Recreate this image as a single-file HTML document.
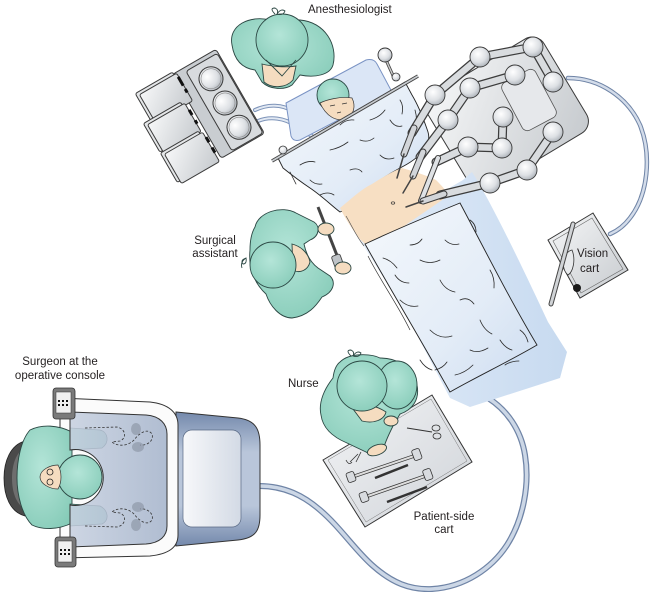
<!DOCTYPE html>
<html><head><meta charset="utf-8"><style>
html,body{margin:0;padding:0;background:#fff;}
svg{display:block;}
text{font-family:"Liberation Sans",Arial,sans-serif;font-size:11.5px;fill:#231f20;}
</style></head><body>
<svg width="650" height="592" viewBox="0 0 650 592" xmlns="http://www.w3.org/2000/svg">
<defs>
<radialGradient id="gBall" cx="0.4" cy="0.35" r="0.7"><stop offset="0" stop-color="#ffffff"/><stop offset="0.6" stop-color="#dde0e4"/><stop offset="1" stop-color="#a9afb6"/></radialGradient>
<radialGradient id="gGreen" cx="0.45" cy="0.4" r="0.7"><stop offset="0" stop-color="#b4e5d8"/><stop offset="1" stop-color="#86cbb8"/></radialGradient>
<linearGradient id="gGray" x1="0" y1="0" x2="1" y2="1"><stop offset="0" stop-color="#f6f7f8"/><stop offset="1" stop-color="#c6cace"/></linearGradient>
<linearGradient id="gDrape" x1="0" y1="0" x2="1" y2="1"><stop offset="0" stop-color="#f4f8fc"/><stop offset="0.6" stop-color="#e3ecf7"/><stop offset="1" stop-color="#ccdcf0"/></linearGradient>
<linearGradient id="gSheet" x1="0" y1="0" x2="1" y2="0"><stop offset="0" stop-color="#e2ecf8"/><stop offset="1" stop-color="#c7daf0"/></linearGradient>
<linearGradient id="gCons" x1="0" y1="0" x2="0" y2="1"><stop offset="0" stop-color="#7489ac"/><stop offset="0.3" stop-color="#b9c6da"/><stop offset="0.7" stop-color="#b9c6da"/><stop offset="1" stop-color="#7489ac"/></linearGradient>
<linearGradient id="gInner" x1="0" y1="0" x2="1" y2="0"><stop offset="0" stop-color="#f7f8fa"/><stop offset="1" stop-color="#d3dae5"/></linearGradient>
<linearGradient id="gPanel" x1="0" y1="0" x2="1" y2="0"><stop offset="0" stop-color="#c5cfdf"/><stop offset="1" stop-color="#a3b2ca"/></linearGradient>
<linearGradient id="gTray" x1="0" y1="0" x2="1" y2="1"><stop offset="0" stop-color="#f3f4f6"/><stop offset="1" stop-color="#cfd3d8"/></linearGradient>
</defs>

<!-- cables -->
<g fill="none" stroke-linecap="round">
<path d="M256,486 C285,485 305,497 320,510 C340,527 355,550 372,565 C392,583 410,590 432,589 C465,587 492,568 507,545 C523,520 530,485 525,455 C521,430 507,410 488,398" stroke="#6f84a6" stroke-width="6"/>
<path d="M256,486 C285,485 305,497 320,510 C340,527 355,550 372,565 C392,583 410,590 432,589 C465,587 492,568 507,545 C523,520 530,485 525,455 C521,430 507,410 488,398" stroke="#ccd7e6" stroke-width="3.5"/>
<path d="M568,78 C600,78 628,98 640,125 C652,155 648,195 630,218 C624,226 617,231 610,234" stroke="#6f84a6" stroke-width="4.5"/>
<path d="M568,78 C600,78 628,98 640,125 C652,155 648,195 630,218 C624,226 617,231 610,234" stroke="#d3dcea" stroke-width="2.5"/>
<path d="M255,110 C268,104 282,104 295,112 C305,118 312,124 322,127" stroke="#7d93b8" stroke-width="4"/>
<path d="M255,110 C268,104 282,104 295,112 C305,118 312,124 322,127" stroke="#e2e9f3" stroke-width="2"/>
<path d="M258,121 C270,116 285,118 296,126 C302,130 306,133 312,136" stroke="#7d93b8" stroke-width="4"/>
<path d="M258,121 C270,116 285,118 296,126 C302,130 306,133 312,136" stroke="#e2e9f3" stroke-width="2"/>
</g>

<!-- anesthesia machine -->
<g transform="translate(225,103) rotate(-30)" stroke="#3a3a3a" stroke-width="1">
<rect x="-31" y="-51" width="50" height="97" rx="3" fill="#c9cdd1"/>
<rect x="-18" y="-47" width="36" height="92" rx="3" fill="#d8dbde"/>
<rect x="-73" y="-53" width="43" height="32" rx="2" fill="#e4e6e8"/>
<rect x="-70" y="-50" width="43" height="32" rx="2" fill="url(#gGray)"/>
<rect x="-81" y="-23" width="43" height="33" rx="2" fill="#e4e6e8"/>
<rect x="-78" y="-20" width="43" height="33" rx="2" fill="url(#gGray)"/>
<rect x="-81" y="11" width="44" height="34" rx="2" fill="#e4e6e8"/>
<rect x="-78" y="14" width="44" height="34" rx="2" fill="url(#gGray)"/>
<g fill="#111" stroke="none">
<rect x="-29" y="-46" width="3" height="10"/><rect x="-29" y="-32" width="3" height="4"/>
<rect x="-36" y="-12" width="3" height="6"/><rect x="-36" y="0" width="3" height="4"/>
<rect x="-35" y="20" width="3" height="6"/><rect x="-35" y="32" width="3" height="6"/>
</g>
<circle cx="0" cy="-28" r="12" fill="url(#gBall)"/><circle cx="0" cy="-28" r="10" fill="none" stroke="#888" stroke-width="0.6"/>
<circle cx="0" cy="0" r="12" fill="url(#gBall)"/><circle cx="0" cy="0" r="10" fill="none" stroke="#888" stroke-width="0.6"/>
<circle cx="0" cy="28" r="12" fill="url(#gBall)"/><circle cx="0" cy="28" r="10" fill="none" stroke="#888" stroke-width="0.6"/>
</g>

<!-- robot base -->
<g transform="translate(507,114) rotate(-31)" stroke="#3a3a3a" stroke-width="1">
<rect x="-68" y="-55" width="136" height="110" rx="14" fill="url(#gGray)"/>
</g>
<g transform="translate(529,100) rotate(-28)" stroke="#555" stroke-width="0.8">
<rect x="-19" y="-27" width="38" height="54" rx="6" fill="#e6e8eb"/>
</g>

<!-- bed sheet -->
<path d="M360,240 L463,180 L472,172 C490,200 520,262 548,322 L567,352 L560,378 L470,407 L450,398 L405,312 Z" fill="url(#gSheet)"/>
<path d="M290,104 L368,62 L392,92 L300,140 Z" fill="#dbe6f6"/>
<!-- pillow -->
<path d="M286,103 L366,60 Q374,58 377,64 L392,92 L300,140 Q293,142 291,136 Z" fill="#dbe6f6" stroke="#7a93c4" stroke-width="1"/>
<!-- patient head -->
<circle cx="333" cy="95" r="16" fill="url(#gGreen)" stroke="#2b4743" stroke-width="0.9"/>
<path d="M320,103 C326,100 340,96 352,98 C356,106 354,115 346,119 C336,122 326,116 320,103 Z" fill="#f5dcc0" stroke="#333" stroke-width="0.7"/>
<path d="M330,106 l5,-1 M342,104 l5,-1 M337,113 l4,-1" stroke="#333" stroke-width="0.7" fill="none"/>
<!-- upper drape -->
<path d="M278,158 L405,82 L412,95 C418,105 424,120 428,132 C432,145 420,158 400,168 C385,176 372,185 360,196 C352,204 346,210 340,212 C332,206 322,196 310,188 C298,180 288,172 283,168 Z" fill="url(#gDrape)" stroke="#222" stroke-width="0.9"/>
<!-- skin -->
<path d="M340,208 C350,200 360,190 372,184 C385,176 395,170 402,168 C416,172 428,176 436,180 C442,186 446,190 448,196 L372,248 C364,244 360,240 356,234 C350,226 344,216 340,208 Z" fill="#f7dfc3"/>
<ellipse cx="393" cy="203" rx="1.8" ry="1.2" fill="none" stroke="#333" stroke-width="0.7"/>
<path d="M346,216 C352,226 356,236 364,246" stroke="#555" stroke-width="0.7" fill="none"/>
<!-- lower drape -->
<path d="M365,244 C395,230 428,216 460,203 C485,250 510,300 537,345 C508,362 478,376 450,392 C422,342 392,292 365,244 Z" fill="url(#gDrape)" stroke="#222" stroke-width="0.9"/>
<path d="M368,256 C380,280 398,305 410,330" stroke="#333" stroke-width="0.7" fill="none"/>
<!-- bar and knobs -->
<line x1="272" y1="161" x2="418" y2="76" stroke="#444" stroke-width="3.5"/>
<line x1="272" y1="161" x2="418" y2="76" stroke="#c8ccd0" stroke-width="1.6"/>
<circle cx="283" cy="150" r="4" fill="url(#gBall)" stroke="#333" stroke-width="0.8"/>
<line x1="395" y1="80" x2="386" y2="60" stroke="#444" stroke-width="3"/>
<line x1="395" y1="80" x2="386" y2="60" stroke="#ccc" stroke-width="1.4"/>
<circle cx="385" cy="55" r="7" fill="url(#gBall)" stroke="#333" stroke-width="0.9"/>
<circle cx="396" cy="77" r="4" fill="url(#gBall)" stroke="#333" stroke-width="0.8"/>
<!-- wrinkles -->
<g fill="none" stroke="#2a2a2a" stroke-width="0.8" stroke-linecap="round">
<path d="M300,165 q8,-5 15,-3"/><path d="M330,150 q10,-2 18,-8"/><path d="M360,140 q8,3 14,-2"/><path d="M390,120 q5,8 12,6"/>
<path d="M310,180 q5,5 12,4"/><path d="M350,170 q8,-3 12,2"/><path d="M380,155 q6,6 14,3"/><path d="M400,100 q4,6 2,14"/>
<path d="M290,172 l6,12"/><path d="M320,195 q8,-4 14,0"/><path d="M415,110 q3,10 0,20"/><path d="M370,120 q10,-3 15,-10"/><path d="M340,125 q6,-6 14,-5"/>
<path d="M420,260 q10,5 20,0"/><path d="M440,280 q5,10 15,12"/><path d="M400,300 q8,8 18,6"/><path d="M460,300 q8,-4 14,4"/>
<path d="M430,330 q10,10 22,6"/><path d="M480,320 q4,10 12,14"/><path d="M470,350 q8,4 18,-2"/><path d="M500,340 q5,8 12,10"/>
<path d="M420,360 q5,8 12,10"/><path d="M455,375 q10,-2 18,-10"/><path d="M395,275 q5,8 14,8"/><path d="M445,240 q6,6 14,4"/>
<path d="M490,270 q5,8 4,18"/><path d="M505,365 q6,-4 14,-4"/><path d="M410,245 q8,0 12,-6"/><path d="M520,330 q6,4 8,12"/>
<path d="M383,258 q8,2 14,10"/><path d="M470,220 q6,4 6,12"/><path d="M435,370 q8,-2 12,-8"/>
</g>

<!-- robot arms -->
<g fill="none" stroke-linejoin="round" stroke-linecap="round">
<g stroke="#3c3c3c" stroke-width="9">
<polyline points="553,82 533,47 480,57 435,95 412,133"/>
<polyline points="515,75 470,88 448,120 420,157"/>
<polyline points="503,117 502,148 468,147 436,162"/>
<polyline points="553,132 527,170 490,183 440,195"/>
</g>
<g stroke="#d9dcdf" stroke-width="6.5">
<polyline points="553,82 533,47 480,57 435,95 412,133"/>
<polyline points="515,75 470,88 448,120 420,157"/>
<polyline points="503,117 502,148 468,147 436,162"/>
<polyline points="553,132 527,170 490,183 440,195"/>
</g>
<line x1="414" y1="128" x2="404" y2="154" stroke="#3c3c3c" stroke-width="7"/>
<line x1="414" y1="128" x2="404" y2="154" stroke="#d2d5d9" stroke-width="5"/>
<line x1="404" y1="154" x2="397" y2="178" stroke="#444" stroke-width="1.5"/>
<line x1="423" y1="152" x2="413" y2="176" stroke="#3c3c3c" stroke-width="7"/>
<line x1="423" y1="152" x2="413" y2="176" stroke="#d2d5d9" stroke-width="5"/>
<line x1="413" y1="176" x2="403" y2="193" stroke="#444" stroke-width="1.5"/>
<line x1="438" y1="158" x2="421" y2="201" stroke="#3c3c3c" stroke-width="6"/>
<line x1="438" y1="158" x2="421" y2="201" stroke="#dfe2e5" stroke-width="4"/>
<line x1="444" y1="194" x2="423" y2="201" stroke="#3c3c3c" stroke-width="7"/>
<line x1="444" y1="194" x2="423" y2="201" stroke="#d2d5d9" stroke-width="5"/>
<line x1="423" y1="201" x2="406" y2="207" stroke="#444" stroke-width="1.5"/>
</g>
<g fill="url(#gBall)" stroke="#3a3a3a" stroke-width="0.9">
<circle cx="480" cy="57" r="10"/><circle cx="533" cy="47" r="10"/><circle cx="553" cy="82" r="10"/>
<circle cx="515" cy="75" r="10"/><circle cx="470" cy="88" r="10"/><circle cx="435" cy="95" r="10"/>
<circle cx="448" cy="120" r="10"/><circle cx="503" cy="117" r="10"/><circle cx="502" cy="148" r="10"/>
<circle cx="468" cy="147" r="10"/><circle cx="553" cy="132" r="10"/><circle cx="527" cy="170" r="10"/>
<circle cx="490" cy="183" r="10"/>
</g>

<!-- vision cart -->
<path d="M548,240 L593,213 L628,270 L580,298 Z" fill="url(#gGray)" stroke="#333" stroke-width="1"/>
<path d="M553,241 L592,218 L623,269 L581,293 Z" fill="none" stroke="#666" stroke-width="0.6"/>
<path d="M572,250 C563,252 560,268 568,275 C573,272 576,260 572,250 Z" fill="#e8eaec" stroke="#333" stroke-width="0.8"/>
<line x1="573" y1="224" x2="551" y2="304" stroke="#444" stroke-width="5" stroke-linecap="round"/>
<line x1="573" y1="224" x2="551" y2="304" stroke="#d0d3d6" stroke-width="3" stroke-linecap="round"/>
<circle cx="577" cy="288" r="4" fill="#1a1a1a"/>
<text x="577" y="257">Vision</text>
<text x="580" y="272">cart</text>

<!-- anesthesiologist -->
<g stroke="#2b4743" stroke-width="0.9">
<path d="M232,45 C228,25 250,15 270,20 L300,20 C325,22 338,45 333,65 C330,75 315,78 300,75 L292,85 C285,90 270,90 262,82 L255,70 C240,68 234,58 232,45 Z" fill="url(#gGreen)"/>
<path d="M262,64 C270,66 285,68 296,66 L293,80 C286,88 272,89 264,82 Z" fill="#f5dcc0"/>
<circle cx="282" cy="40" r="26" fill="url(#gGreen)"/>
<path d="M266,60 L282,76 L296,60" fill="none"/>
<path d="M275,14 q-6,-6 0,-6 q4,2 2,6 q4,-6 8,-3 q-2,5 -8,3" fill="none"/>
</g>

<!-- surgical assistant -->
<g stroke="#2b4743" stroke-width="0.9">
<line x1="318" y1="207" x2="338" y2="258" stroke="#444" stroke-width="3"/>
<rect x="333" y="255" width="9" height="12" rx="2" fill="#bfc3c7" stroke="#444" transform="rotate(-20 337 261)"/>
<path d="M255,227 C258,212 282,205 296,213 L314,222 C320,226 320,236 310,240 L304,244 C306,254 310,262 318,268 L330,276 C336,282 334,292 322,297 C316,306 308,316 292,318 C280,318 270,306 266,294 C256,285 248,270 250,250 C250,240 252,232 255,227 Z" fill="url(#gGreen)"/>
<ellipse cx="326" cy="229" rx="8" ry="6" fill="#f5dcc0"/>
<ellipse cx="343" cy="268" rx="8" ry="6" fill="#f5dcc0"/>
<path d="M292,244 C300,246 308,252 310,262 C308,270 300,274 293,270 Z" fill="#f5dcc0"/>
<circle cx="273" cy="265" r="23" fill="url(#gGreen)"/>
<path d="M246,258 q-6,2 -3,6 q4,0 3,-6 q-6,4 -4,10" fill="none"/>
</g>
<text x="215" y="244" text-anchor="middle">Surgical</text>
<text x="215" y="257" text-anchor="middle">assistant</text>

<!-- tray -->
<path d="M323,460 L432,395 L472,462 L365,527 Z" fill="url(#gTray)" stroke="#333" stroke-width="1"/>
<path d="M328,460 L431,399 L467,461 L366,522 Z" fill="none" stroke="#777" stroke-width="0.5"/>
<g stroke="#333" stroke-width="0.8" fill="#d8dbdf">
<line x1="352" y1="477" x2="417" y2="455" stroke="#333" stroke-width="3.5"/>
<line x1="352" y1="477" x2="417" y2="455" stroke="#ddd" stroke-width="2"/>
<rect x="347" y="472" width="8" height="10" rx="2" transform="rotate(-20 351 477)"/>
<rect x="413" y="449" width="8" height="11" rx="2" transform="rotate(-20 417 455)"/>
<line x1="365" y1="497" x2="428" y2="475" stroke="#333" stroke-width="3.5"/>
<line x1="365" y1="497" x2="428" y2="475" stroke="#ddd" stroke-width="2"/>
<rect x="360" y="492" width="8" height="10" rx="2" transform="rotate(-20 364 497)"/>
<rect x="424" y="469" width="8" height="11" rx="2" transform="rotate(-20 428 475)"/>
<line x1="375" y1="478" x2="408" y2="465" stroke="#333" stroke-width="2.5"/>
<line x1="387" y1="502" x2="427" y2="487" stroke="#333" stroke-width="2.5"/>
<line x1="407" y1="428" x2="432" y2="432" stroke="#333" stroke-width="1"/>
<ellipse cx="436" cy="428" rx="4" ry="3" fill="none"/><ellipse cx="437" cy="436" rx="4" ry="3" fill="none"/>
<path d="M350,462 l8,-8 M356,462 l5,-10 M346,460 q3,6 6,2" fill="none"/>
</g>

<!-- nurse -->
<g stroke="#2b4743" stroke-width="0.9">
<path d="M340,362 C350,352 372,354 380,358 C395,358 412,365 417,385 C420,400 412,410 400,414 L393,426 C390,432 386,440 384,447 C380,455 372,456 366,452 L347,443 C335,438 323,430 321,415 C318,402 325,388 333,378 C334,370 336,365 340,362 Z" fill="url(#gGreen)"/>
<ellipse cx="397" cy="385" rx="20" ry="24" fill="url(#gGreen)"/>
<path d="M350,405 C360,403 374,404 386,412 C384,420 374,424 362,421 Z" fill="#f5dcc0"/>
<circle cx="362" cy="386" r="25" fill="url(#gGreen)"/>
<ellipse cx="377" cy="450" rx="10" ry="5" fill="#f5dcc0" transform="rotate(-20 377 450)"/>
<ellipse cx="391" cy="421" rx="7" ry="5" fill="#f5dcc0"/>
<path d="M351,356 q-6,-6 0,-6 q4,2 2,6 q4,-6 8,-3 q-2,5 -8,3" fill="none"/>
</g>
<text x="288" y="387">Nurse</text>
<text x="444" y="520" text-anchor="middle">Patient-side</text>
<text x="444" y="533" text-anchor="middle">cart</text>

<!-- console -->
<path d="M176,412 L238,418 C256,420 260,430 260,445 L260,515 C260,530 256,538 238,540 L176,546 Z" fill="url(#gCons)" stroke="#333" stroke-width="1"/>
<rect x="183" y="430" width="58" height="97" rx="9" fill="url(#gInner)" stroke="#5a6a85" stroke-width="0.7"/>
<path d="M60,398 L150,402 C168,404 178,412 178,425 L178,535 C178,548 168,554 150,556 L60,558 Z" fill="#fbfbfb" stroke="#333" stroke-width="1"/>
<path d="M25,441 C10,445 4,462 4,478 C4,496 10,512 25,516 Z" fill="#4a4a4a" stroke="#222" stroke-width="0.8"/>
<path d="M25,448 C16,452 12,465 12,478 C12,492 16,504 25,509 Z" fill="#6e6e6e"/>
<path d="M30,430 C42,424 58,425 72,432 L72,523 C58,530 42,530 32,525 C22,515 17,495 17,478 C17,460 21,440 30,430 Z" fill="url(#gGreen)" stroke="#2b4743" stroke-width="0.9"/>
<path d="M70,428 L100,430 C108,432 110,442 102,448 L70,450 Z" fill="#9fd3c6" stroke="#2b4743" stroke-width="0.7"/>
<path d="M70,504 L100,506 C108,510 110,520 102,524 L70,526 Z" fill="#9fd3c6" stroke="#2b4743" stroke-width="0.7"/>
<path d="M70,412 L146,415 C160,416 167,424 167,434 L167,526 C167,536 160,543 146,544 L70,547 L70,505 A28,28 0 1 0 70,450 Z" fill="url(#gPanel)" fill-opacity="0.85" stroke="#333" stroke-width="1"/>
<g fill="none" stroke="#333" stroke-width="0.8" stroke-dasharray="2.5,1.8">
<path d="M85,428 L117,427 C126,429 127,438 120,441 L112,442 C118,447 128,446 134,440 C140,432 148,428 152,434 C154,440 148,446 140,445"/>
<path d="M85,526 L117,527 C126,525 127,516 120,513 L112,512 C118,507 128,508 134,514 C140,522 148,526 152,520 C154,514 148,508 140,509"/>
</g>
<g fill="#8e99a8" fill-opacity="0.7">
<ellipse cx="136" cy="429" rx="5" ry="6"/><ellipse cx="138" cy="447" rx="6" ry="5"/>
<ellipse cx="136" cy="525" rx="5" ry="6"/><ellipse cx="138" cy="507" rx="6" ry="5"/>
</g>
<circle cx="80" cy="477" r="22" fill="url(#gGreen)" stroke="#2b4743" stroke-width="0.9"/>
<path d="M58,465 C50,465 40,470 40,477 C40,484 50,489 58,489 C62,482 62,472 58,465 Z" fill="#f5dcc0" stroke="#333" stroke-width="0.7"/>
<circle cx="50" cy="472" r="3" fill="none" stroke="#222" stroke-width="0.8"/>
<circle cx="50" cy="482" r="3" fill="none" stroke="#222" stroke-width="0.8"/>
<rect x="53" y="388" width="22" height="31" rx="3" fill="#7a7a7a" stroke="#333" stroke-width="0.8"/>
<rect x="56" y="392" width="15" height="21" fill="#f0f0f0" stroke="#333" stroke-width="0.5"/>
<g fill="#111"><rect x="58" y="400" width="2" height="2"/><rect x="62" y="400" width="2" height="2"/><rect x="66" y="400" width="2" height="2"/><rect x="58" y="404" width="2" height="2"/><rect x="62" y="404" width="2" height="2"/><rect x="66" y="404" width="2" height="2"/></g>
<rect x="55" y="537" width="21" height="30" rx="3" fill="#7a7a7a" stroke="#333" stroke-width="0.8"/>
<rect x="58" y="541" width="14" height="21" fill="#f0f0f0" stroke="#333" stroke-width="0.5"/>
<g fill="#111"><rect x="60" y="549" width="2" height="2"/><rect x="64" y="549" width="2" height="2"/><rect x="68" y="549" width="2" height="2"/><rect x="60" y="553" width="2" height="2"/><rect x="64" y="553" width="2" height="2"/><rect x="68" y="553" width="2" height="2"/></g>

<!-- labels -->
<text x="308" y="13">Anesthesiologist</text>
<text x="60" y="365" text-anchor="middle">Surgeon at the</text>
<text x="60" y="379" text-anchor="middle">operative console</text>
</svg>
</body></html>
